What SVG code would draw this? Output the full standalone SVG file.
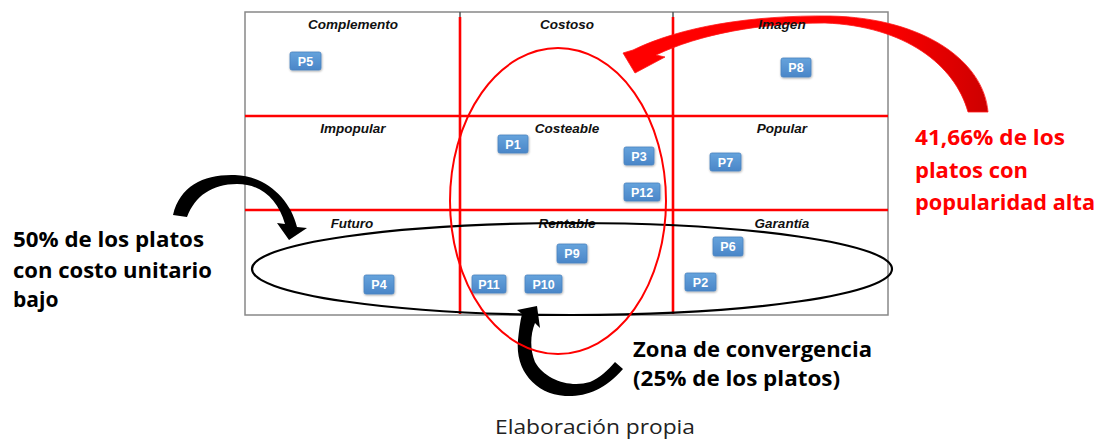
<svg xmlns="http://www.w3.org/2000/svg" width="1102" height="441" viewBox="0 0 1102 441">
<style>
.lbl{font-family:"Liberation Sans",Arial,sans-serif;font-weight:bold;font-style:italic;font-size:13.5px;fill:#111;text-anchor:middle}
.box{fill:url(#bg);stroke:#4a84c0;stroke-width:0.8;filter:url(#sh)}
.bt{font-family:"Liberation Sans",Arial,sans-serif;font-weight:bold;font-size:12.5px;fill:#fff;text-anchor:middle}
.big{font-family:"Open Sans","Noto Sans",sans-serif;font-weight:bold;font-size:21px}
.grid{stroke:#ff0000;stroke-width:2.6;fill:none}
</style>
<defs>
<linearGradient id="bg" x1="0" y1="0" x2="0" y2="1">
<stop offset="0" stop-color="#66a3dc"/>
<stop offset="1" stop-color="#4a86c8"/>
</linearGradient>
<linearGradient id="rg" x1="880" y1="0" x2="990" y2="0" gradientUnits="userSpaceOnUse">
<stop offset="0" stop-color="#ff0000"/>
<stop offset="1" stop-color="#cc0000"/>
</linearGradient>
<filter id="sh" x="-20%" y="-20%" width="150%" height="160%">
<feDropShadow dx="0.5" dy="1" stdDeviation="0.8" flood-color="#000" flood-opacity="0.35"/>
</filter>
</defs>
<rect width="1102" height="441" fill="#fff"/>
<g id="matrix">
<rect x="245" y="12" width="643" height="303" fill="#fff" stroke="#888" stroke-width="1.5"/>
<line x1="460" y1="12" x2="460" y2="17" stroke="#555" stroke-width="1.5"/>
<line x1="673" y1="12" x2="673" y2="17" stroke="#555" stroke-width="1.5"/>
<line class="grid" x1="460" y1="17" x2="460" y2="314"/>
<line class="grid" x1="673" y1="17" x2="673" y2="314"/>
<line class="grid" x1="245" y1="116" x2="888" y2="116"/>
<line class="grid" x1="245" y1="210" x2="888" y2="210"/>
</g>
<g id="connectors">
<path d="M 988 112 C 984 62 925 18 830 16 C 750 15 680 27 633 50 L 623 53 L 635 73 L 665 57 L 656 55 C 700 34 760 23 825 23 C 905 26 955 65 968 112 Z" fill="url(#rg)" stroke="#ff1a1a" stroke-width="0.8"/>
<path d="M 173 215 C 180 185 205 174 235 175 C 265 176 290 198 297 227 L 307 228 L 289 240 L 277 223 L 285 224 C 278 200 262 184 237 184 C 212 184 195 196 187 217 Z" fill="#000"/>
<path d="M 623 369 C 605 390 585 397 565 396 C 535 394 515 370 518 340 C 519 330 520 322 522 314 L 517 310 L 537 306 L 540 328 L 535 323 C 530 335 530 350 535 362 C 545 380 570 388 590 382 C 600 378 608 370 615 362 Z" fill="#000"/>
</g>
<g id="labels">
<text class="lbl" x="353" y="29">Complemento</text>
<text class="lbl" x="567" y="29">Costoso</text>
<text class="lbl" x="782" y="29">Imagen</text>
<text class="lbl" x="353" y="133">Impopular</text>
<text class="lbl" x="567" y="133">Costeable</text>
<text class="lbl" x="782" y="133">Popular</text>
<text class="lbl" x="352" y="228">Futuro</text>
<text class="lbl" x="567" y="228">Rentable</text>
<text class="lbl" x="782" y="228">Garantía</text>
</g>
<g id="nodes">
<g id="P5"><rect class="box" x="290" y="52" width="31" height="18" rx="2"/><text class="bt" x="305.5" y="65.5">P5</text></g>
<g id="P8"><rect class="box" x="781" y="58" width="30" height="19" rx="2"/><text class="bt" x="796" y="72">P8</text></g>
<g id="P1"><rect class="box" x="498" y="135" width="30" height="18" rx="2"/><text class="bt" x="513" y="148.5">P1</text></g>
<g id="P3"><rect class="box" x="624" y="147" width="30" height="18" rx="2"/><text class="bt" x="639" y="160.5">P3</text></g>
<g id="P12"><rect class="box" x="624" y="183" width="36" height="18" rx="2"/><text class="bt" x="642" y="196.5">P12</text></g>
<g id="P7"><rect class="box" x="710" y="153" width="31" height="18" rx="2"/><text class="bt" x="725.5" y="166.5">P7</text></g>
<g id="P4"><rect class="box" x="364" y="275" width="30" height="19" rx="2"/><text class="bt" x="379" y="289">P4</text></g>
<g id="P9"><rect class="box" x="557" y="244" width="30" height="19" rx="2"/><text class="bt" x="572" y="258">P9</text></g>
<g id="P11"><rect class="box" x="472" y="275" width="34" height="18" rx="2"/><text class="bt" x="489" y="288.5">P11</text></g>
<g id="P10"><rect class="box" x="525" y="275" width="37" height="18" rx="2"/><text class="bt" x="543.5" y="288.5">P10</text></g>
<g id="P6"><rect class="box" x="713" y="237" width="30" height="19" rx="2"/><text class="bt" x="728" y="251">P6</text></g>
<g id="P2"><rect class="box" x="685" y="273" width="31" height="18" rx="2"/><text class="bt" x="700.5" y="286.5">P2</text></g>
</g>
<g id="zones" fill="none">
<ellipse cx="572" cy="269" rx="320" ry="46" stroke="#000" stroke-width="2.2"/>
<ellipse cx="558" cy="201" rx="108" ry="153" stroke="#ff0000" stroke-width="2"/>
</g>
<g id="notes">
<text class="big" fill="#ff0000"><tspan x="915" y="145" textLength="150" lengthAdjust="spacingAndGlyphs">41,66% de los</tspan><tspan x="915" y="178" textLength="113" lengthAdjust="spacingAndGlyphs">platos con</tspan><tspan x="915" y="210" textLength="180" lengthAdjust="spacingAndGlyphs">popularidad alta</tspan></text>
<text class="big" fill="#000"><tspan x="13" y="247" textLength="191" lengthAdjust="spacingAndGlyphs">50% de los platos</tspan><tspan x="13" y="278" textLength="199" lengthAdjust="spacingAndGlyphs">con costo unitario</tspan><tspan x="13" y="307">bajo</tspan></text>
<text class="big" fill="#000"><tspan x="633" y="357" textLength="239" lengthAdjust="spacingAndGlyphs">Zona de convergencia</tspan><tspan x="633" y="386" textLength="207" lengthAdjust="spacingAndGlyphs">(25% de los platos)</tspan></text>
<text x="495" y="434" font-family="Open Sans,Noto Sans,sans-serif" font-size="20" fill="#222" textLength="200" lengthAdjust="spacingAndGlyphs">Elaboración propia</text>
</g>
</svg>
